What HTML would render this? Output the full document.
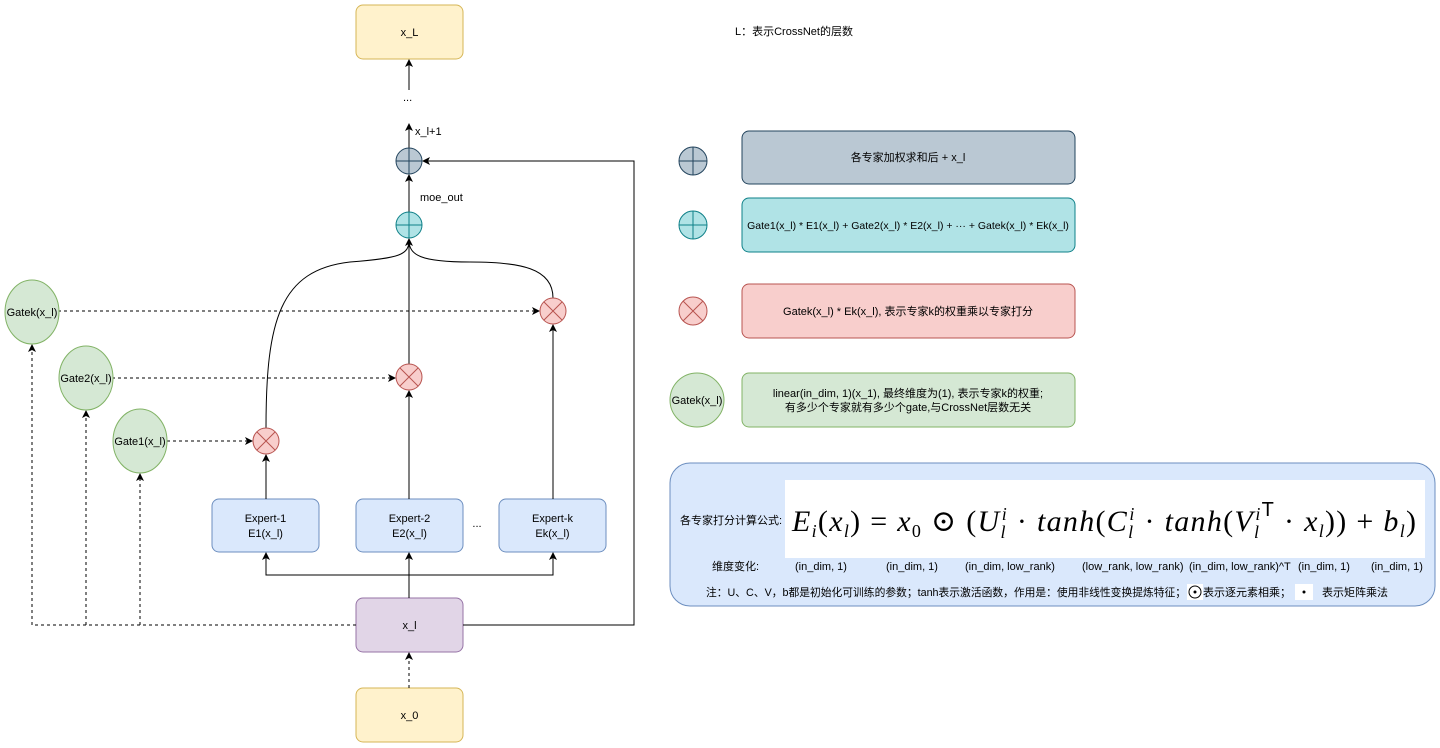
<!DOCTYPE html>
<html><head><meta charset="utf-8"><style>
html,body{margin:0;padding:0;background:#fff;}
svg{display:block;}
text{font-family:"Liberation Sans","Noto Sans CJK SC",sans-serif;font-size:11px;fill:#000;}
.m{font-family:"Liberation Serif","DejaVu Serif",serif;font-style:italic;font-size:30px;}
.r{font-family:"Liberation Serif","DejaVu Serif",serif;font-size:30px;}
</style></head><body>
<svg width="1440" height="748" viewBox="0 0 1440 748" xmlns="http://www.w3.org/2000/svg">
<defs>
<marker id="a" markerWidth="8" markerHeight="8" refX="7" refY="4" orient="auto" markerUnits="userSpaceOnUse">
<path d="M0,0 L8,4 L0,8 L2,4 Z" fill="#000"/></marker>
</defs>
<rect x="356" y="5" width="107" height="54" rx="7" fill="#fff2cc" stroke="#d6b656"/>
<text x="409.5" y="36" text-anchor="middle">x_L</text>
<rect x="212" y="499" width="107" height="53" rx="7" fill="#dae8fc" stroke="#6c8ebf"/>
<text x="265.5" y="522" text-anchor="middle">Expert-1</text><text x="265.5" y="537" text-anchor="middle">E1(x_l)</text>
<rect x="356" y="499" width="107" height="53" rx="7" fill="#dae8fc" stroke="#6c8ebf"/>
<text x="409.5" y="522" text-anchor="middle">Expert-2</text><text x="409.5" y="537" text-anchor="middle">E2(x_l)</text>
<rect x="499" y="499" width="107" height="53" rx="7" fill="#dae8fc" stroke="#6c8ebf"/>
<text x="552.5" y="522" text-anchor="middle">Expert-k</text><text x="552.5" y="537" text-anchor="middle">Ek(x_l)</text>
<text x="477" y="527" text-anchor="middle">...</text>
<rect x="356" y="598" width="107" height="54" rx="7" fill="#e1d5e7" stroke="#9673a6"/>
<text x="409.5" y="629" text-anchor="middle">x_l</text>
<rect x="356" y="688" width="107" height="54" rx="7" fill="#fff2cc" stroke="#d6b656"/>
<text x="409.5" y="719" text-anchor="middle">x_0</text>

<g fill="none" stroke="#000" stroke-width="1">
<line x1="409" y1="688" x2="409" y2="653" stroke-dasharray="3,3" marker-end="url(#a)"/>
<line x1="409" y1="598" x2="409" y2="553" marker-end="url(#a)"/>
<polyline points="409,575 266,575 266,553" marker-end="url(#a)"/>
<polyline points="409,575 553,575 553,553" marker-end="url(#a)"/>
<line x1="266" y1="499" x2="266" y2="455" marker-end="url(#a)"/>
<line x1="409" y1="499" x2="409" y2="391" marker-end="url(#a)"/>
<line x1="553" y1="499" x2="553" y2="325" marker-end="url(#a)"/>
<line x1="409" y1="364" x2="409" y2="239" marker-end="url(#a)"/>
<path d="M266,428 C266,320 280,270 350,262 C400,258 409,255 409,240"/>
<path d="M553,298 C553,268 520,262 470,262 C420,262 409,255 409,240"/>
<line x1="409" y1="212" x2="409" y2="175" marker-end="url(#a)"/>
<line x1="409" y1="148" x2="409" y2="124" marker-end="url(#a)"/>
<line x1="409" y1="90" x2="409" y2="60" marker-end="url(#a)"/>
<polyline points="463,625 634,625 634,161 423,161" marker-end="url(#a)"/>
<g stroke-dasharray="3,3">
<polyline points="356,625 32,625 32,345" marker-end="url(#a)"/>
<line x1="86" y1="625" x2="86" y2="411" marker-end="url(#a)"/>
<line x1="140" y1="625" x2="140" y2="474" marker-end="url(#a)"/>
<line x1="58" y1="311" x2="539" y2="311" marker-end="url(#a)"/>
<line x1="112" y1="378" x2="395" y2="378" marker-end="url(#a)"/>
<line x1="167" y1="441" x2="252" y2="441" marker-end="url(#a)"/>
</g>
</g>
<text x="403" y="101">...</text>
<text x="415" y="135">x_l+1</text>
<text x="420" y="201">moe_out</text>

<g stroke-width="1">
<g fill="#bac8d3" stroke="#23445d"><circle cx="409" cy="161" r="13"/><path d="M396,161H422M409,148V174"/></g>
<g fill="#b0e3e6" stroke="#0e8088"><circle cx="409" cy="225" r="13"/><path d="M396,225H422M409,212V238"/></g>
<g fill="#f8cecc" stroke="#b85450">
<circle cx="266" cy="441" r="13"/><path d="M257,432L275,450M275,432L257,450"/>
<circle cx="409" cy="377" r="13"/><path d="M400,368L418,386M418,368L400,386"/>
<circle cx="553" cy="311" r="13"/><path d="M544,302L562,320M562,302L544,320"/>
</g>
<g fill="#d5e8d4" stroke="#82b366">
<ellipse cx="32" cy="312" rx="27" ry="32"/>
<ellipse cx="86" cy="378" rx="27" ry="32"/>
<ellipse cx="140" cy="441" rx="27" ry="32"/>
</g>
</g>
<text x="32" y="316" text-anchor="middle">Gatek(x_l)</text>
<text x="86" y="382" text-anchor="middle">Gate2(x_l)</text>
<text x="140" y="445" text-anchor="middle">Gate1(x_l)</text>

<text x="735" y="35">L：表示CrossNet的层数</text>

<g fill="#bac8d3" stroke="#23445d"><circle cx="693" cy="161" r="14"/><path d="M679,161H707M693,147V175"/></g>
<g fill="#b0e3e6" stroke="#0e8088"><circle cx="693" cy="225" r="14"/><path d="M679,225H707M693,211V239"/></g>
<g fill="#f8cecc" stroke="#b85450"><circle cx="693" cy="311" r="14"/><path d="M683,301L703,321M703,301L683,321"/></g>
<ellipse cx="697" cy="400" rx="27" ry="27" fill="#d5e8d4" stroke="#82b366"/>
<text x="697" y="404" text-anchor="middle">Gatek(x_l)</text>
<rect x="742" y="131" width="333" height="53" rx="7" fill="#bac8d3" stroke="#23445d"/>
<text x="908" y="161" text-anchor="middle">各专家加权求和后 + x_l</text>
<rect x="742" y="198" width="333" height="54" rx="7" fill="#b0e3e6" stroke="#0e8088"/>
<text x="908" y="229" text-anchor="middle" style="font-size:10.5px">Gate1(x_l) * E1(x_l) + Gate2(x_l) * E2(x_l) + ··· + Gatek(x_l) * Ek(x_l)</text>
<rect x="742" y="284" width="333" height="54" rx="7" fill="#f8cecc" stroke="#b85450"/>
<text x="908" y="315" text-anchor="middle">Gatek(x_l) * Ek(x_l), 表示专家k的权重乘以专家打分</text>
<rect x="742" y="373" width="333" height="54" rx="7" fill="#d5e8d4" stroke="#82b366"/>
<text x="908" y="397" text-anchor="middle">linear(in_dim, 1)(x_1), 最终维度为(1), 表示专家k的权重;</text>
<text x="908" y="411" text-anchor="middle">有多少个专家就有多少个gate,与CrossNet层数无关</text>

<rect x="670" y="463" width="765" height="143" rx="20" fill="#dae8fc" stroke="#6c8ebf"/>
<rect x="785" y="480" width="640" height="78" fill="#fff"/>
<text x="680" y="524">各专家打分计算公式:</text>
<text x="792" y="531" textLength="624" lengthAdjust="spacing"><tspan class="m">E</tspan><tspan class="m" dy="6" style="font-size:18px">i</tspan><tspan class="r" dy="-6">(</tspan><tspan class="m">x</tspan><tspan class="m" style="font-size:18px" dy="6">l</tspan><tspan class="r" dy="-6">) = </tspan><tspan class="m">x</tspan><tspan class="r" style="font-size:18px" dy="6">0</tspan><tspan class="r" dy="-6"> ⊙   (</tspan><tspan class="m">U</tspan><tspan class="m" style="font-size:18px" dy="7">l</tspan><tspan class="m" style="font-size:18px" dx="-5" dy="-18">i</tspan><tspan class="r" dy="11"> · </tspan><tspan class="m">tanh</tspan><tspan class="r">(</tspan><tspan class="m">C</tspan><tspan class="m" style="font-size:18px" dy="7">l</tspan><tspan class="m" style="font-size:18px" dx="-5" dy="-18">i</tspan><tspan class="r" dy="11"> · </tspan><tspan class="m">tanh</tspan><tspan class="r">(</tspan><tspan class="m">V</tspan><tspan class="m" style="font-size:18px" dy="7">l</tspan><tspan class="m" style="font-size:18px" dx="-5" dy="-18">i</tspan><tspan style="font-size:20px" dy="-4">T</tspan><tspan class="r" dy="15"> · </tspan><tspan class="m">x</tspan><tspan class="m" style="font-size:18px" dy="6">l</tspan><tspan class="r" dy="-6">)) + </tspan><tspan class="m">b</tspan><tspan class="m" style="font-size:18px" dy="6">l</tspan><tspan class="r" dy="-6">)</tspan></text>
<text x="712" y="570">维度变化:</text>
<text x="795" y="570">(in_dim, 1)</text>
<text x="886" y="570">(in_dim, 1)</text>
<text x="965" y="570">(in_dim, low_rank)</text>
<text x="1082" y="570">(low_rank, low_rank)</text>
<text x="1189" y="570">(in_dim, low_rank)^T</text>
<text x="1298" y="570">(in_dim, 1)</text>
<text x="1371" y="570">(in_dim, 1)</text>
<text x="706" y="596" textLength="480" lengthAdjust="spacingAndGlyphs">注：U、C、V，b都是初始化可训练的参数；tanh表示激活函数，作用是：使用非线性变换提炼特征；</text>
<rect x="1187" y="584" width="16" height="16" fill="#fff"/>
<circle cx="1195" cy="592" r="6" fill="none" stroke="#000"/><circle cx="1195" cy="592" r="1.5" fill="#000"/>
<text x="1203" y="596">表示逐元素相乘；</text>
<rect x="1295" y="584" width="18" height="16" fill="#fff"/>
<circle cx="1304" cy="592" r="1.5" fill="#000"/>
<text x="1322" y="596">表示矩阵乘法</text>
</svg>
</body></html>
